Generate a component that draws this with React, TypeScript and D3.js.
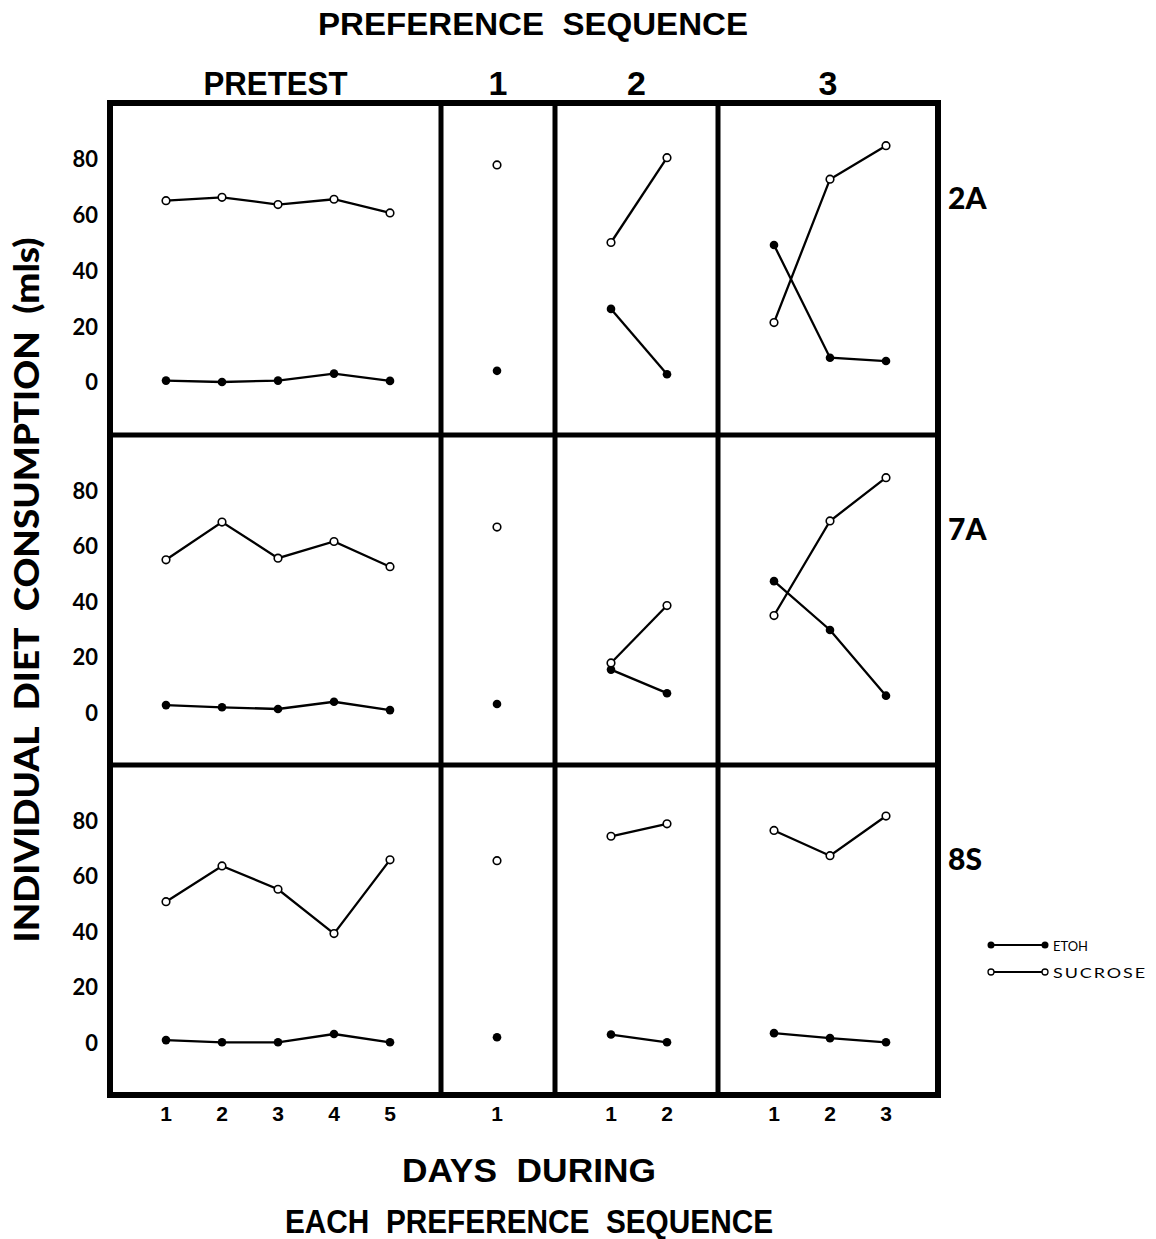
import React from "react";
import * as d3 from "d3";

// animals (rows) and preference phases (columns)
const animals = ["2A", "7A", "8S"];
const phases = ["PRETEST", "1", "2", "3"];
const phaseDays = [[1, 2, 3, 4, 5], [1], [1, 2], [1, 2, 3]];
const yTicks = [0, 20, 40, 60, 80];

// mls consumed, per phase
const sucrose2A = [[65, 66.2, 63.6, 65.5, 60.6], [77.8], [50, 80.4], [21.3, 72.7, 84.7]];
const etoh2A = [[0.5, 0, 0.5, 3, 0.4], [4], [26.2, 2.8], [49.1, 8.7, 7.5]];
const sucrose7A = [[55, 68.6, 55.6, 61.6, 52.5], [66.8], [17.8, 38.5], [34.9, 69, 84.6]];
const etoh7A = [[2.6, 1.8, 1.2, 3.8, 0.8], [3], [15.4, 6.9], [47.3, 29.7, 6]];
const sucrose8S = [[50.7, 63.6, 55.2, 39.2, 65.8], [65.5], [74.3, 78.8], [76.4, 67.3, 81.6]];
const etoh8S = [[0.8, 0, 0, 3, 0], [1.8], [2.8, 0], [3.3, 1.5, 0]];

const sucroseByAnimal = [sucrose2A, sucrose7A, sucrose8S];
const etohByAnimal = [etoh2A, etoh7A, etoh8S];

const W = 1156;
const H = 1239;
const colEdges = [110, 441, 555, 718, 938];
const rowEdges = [103, 435, 765, 1095];
const DAY_PX = 56;
const FONT = "Lato, 'Open Sans', sans-serif";
const NARROW = "'Liberation Sans Narrow', 'Liberation Sans', sans-serif";
const pre = { whiteSpace: "pre" } as React.CSSProperties;

const xScales = phases.map((_, c) =>
  d3.scaleLinear()
    .domain([0, (colEdges[c + 1] - colEdges[c]) / DAY_PX])
    .range([colEdges[c], colEdges[c + 1]])
);
const yScales = animals.map((_, r) =>
  d3.scaleLinear().domain([-19, 100]).range([rowEdges[r + 1], rowEdges[r]])
);

const Series = ({ days, vals, x, y, open }) => {
  const line = d3.line().x((d) => x(d[0])).y((d) => y(d[1]));
  const pts = days.map((d, i) => [d, vals[i]]);
  return (
    <g>
      {pts.length > 1 && <path d={line(pts)} fill="none" stroke="#000" strokeWidth={2.3} />}
      {pts.map((p, i) =>
        open ? (
          <circle key={i} cx={x(p[0])} cy={y(p[1])} r={3.8} fill="#fff" stroke="#000" strokeWidth={1.6} />
        ) : (
          <circle key={i} cx={x(p[0])} cy={y(p[1])} r={4.3} fill="#000" />
        )
      )}
    </g>
  );
};

export default function App() {
  const left = colEdges[0];
  const right = colEdges[colEdges.length - 1];
  const top = rowEdges[0];
  const bottom = rowEdges[rowEdges.length - 1];
  return (
    <svg width={W} height={H} style={{ position: "absolute", left: 0, top: 0, background: "#fff" }}>
      <rect x={0} y={0} width={W} height={H} fill="#fff" />
      {/* titles */}
      <text x={533} y={24} textAnchor="middle" dominantBaseline="central" fontFamily={NARROW} style={pre}
        fontWeight="bold" fontSize={31} textLength={430} lengthAdjust="spacingAndGlyphs">PREFERENCE  SEQUENCE</text>
      {phases.map((p, c) => (
        <text key={p} x={(colEdges[c] + colEdges[c + 1]) / 2} y={83} textAnchor="middle" dominantBaseline="central"
          fontFamily={NARROW} fontWeight="bold" fontSize={34}
          {...(c === 0 ? { textLength: 144, lengthAdjust: "spacingAndGlyphs" } : {})}>{p}</text>
      ))}

      {/* data */}
      {animals.map((a, r) => (
        <g key={a}>
          {phases.map((p, c) => (
            <g key={p}>
              <Series days={phaseDays[c]} vals={etohByAnimal[r][c]} x={xScales[c]} y={yScales[r]} open={false} />
              <Series days={phaseDays[c]} vals={sucroseByAnimal[r][c]} x={xScales[c]} y={yScales[r]} open={true} />
            </g>
          ))}
          {yTicks.map((t) => (
            <text key={t} x={98} y={yScales[r](t)} textAnchor="end" dominantBaseline="central"
              fontFamily={FONT} fontWeight="bold" fontSize={22}>{t}</text>
          ))}
          <text x={948} y={(rowEdges[r] + rowEdges[r + 1]) / 2 - 72} dominantBaseline="central"
            fontFamily={FONT} fontWeight="900" fontSize={30}>{a}</text>
        </g>
      ))}

      {/* frame */}
      {colEdges.slice(1, -1).map((cx) => (
        <line key={cx} x1={cx} x2={cx} y1={top} y2={bottom} stroke="#000" strokeWidth={5} />
      ))}
      {rowEdges.slice(1, -1).map((ry) => (
        <line key={ry} x1={left} x2={right} y1={ry} y2={ry} stroke="#000" strokeWidth={5} />
      ))}
      <rect x={left} y={top} width={right - left} height={bottom - top} fill="none" stroke="#000" strokeWidth={6} />

      {/* x tick labels */}
      {phases.map((p, c) =>
        phaseDays[c].map((d) => (
          <text key={p + d} x={xScales[c](d)} y={1113} textAnchor="middle" dominantBaseline="central"
            fontFamily={NARROW} fontWeight="bold" fontSize={21}>{d}</text>
        ))
      )}
      <text x={529} y={1170} textAnchor="middle" dominantBaseline="central" fontFamily={NARROW} style={pre}
        fontWeight="bold" fontSize={34} textLength={254} lengthAdjust="spacingAndGlyphs">DAYS  DURING</text>
      <text x={529} y={1221} textAnchor="middle" dominantBaseline="central" fontFamily={NARROW} style={pre}
        fontWeight="bold" fontSize={34} textLength={488} lengthAdjust="spacingAndGlyphs">EACH  PREFERENCE  SEQUENCE</text>

      {/* y title */}
      <text transform={`translate(25,590) rotate(-90)`} textAnchor="middle" dominantBaseline="central" style={pre}
        fontFamily={FONT} fontWeight="900" fontSize={34} textLength={705} lengthAdjust="spacingAndGlyphs">INDIVIDUAL  DIET  CONSUMPTION  (mls)</text>

      {/* legend */}
      <g>
        <line x1={991} x2={1045} y1={945} y2={945} stroke="#000" strokeWidth={2} />
        <circle cx={991} cy={945} r={3.5} fill="#000" />
        <circle cx={1045} cy={945} r={3.5} fill="#000" />
        <text x={1053} y={945} dominantBaseline="central" fontFamily={FONT} fontSize={14}
          textLength={35} lengthAdjust="spacingAndGlyphs">ETOH</text>
        <line x1={991} x2={1045} y1={972} y2={972} stroke="#000" strokeWidth={2} />
        <circle cx={991} cy={972} r={3} fill="#fff" stroke="#000" strokeWidth={1.3} />
        <circle cx={1045} cy={972} r={3} fill="#fff" stroke="#000" strokeWidth={1.3} />
        <text x={1053} y={972} dominantBaseline="central" fontFamily={FONT} fontSize={14} letterSpacing={1.5}
          textLength={94} lengthAdjust="spacingAndGlyphs">SUCROSE</text>
      </g>
    </svg>
  );
}
